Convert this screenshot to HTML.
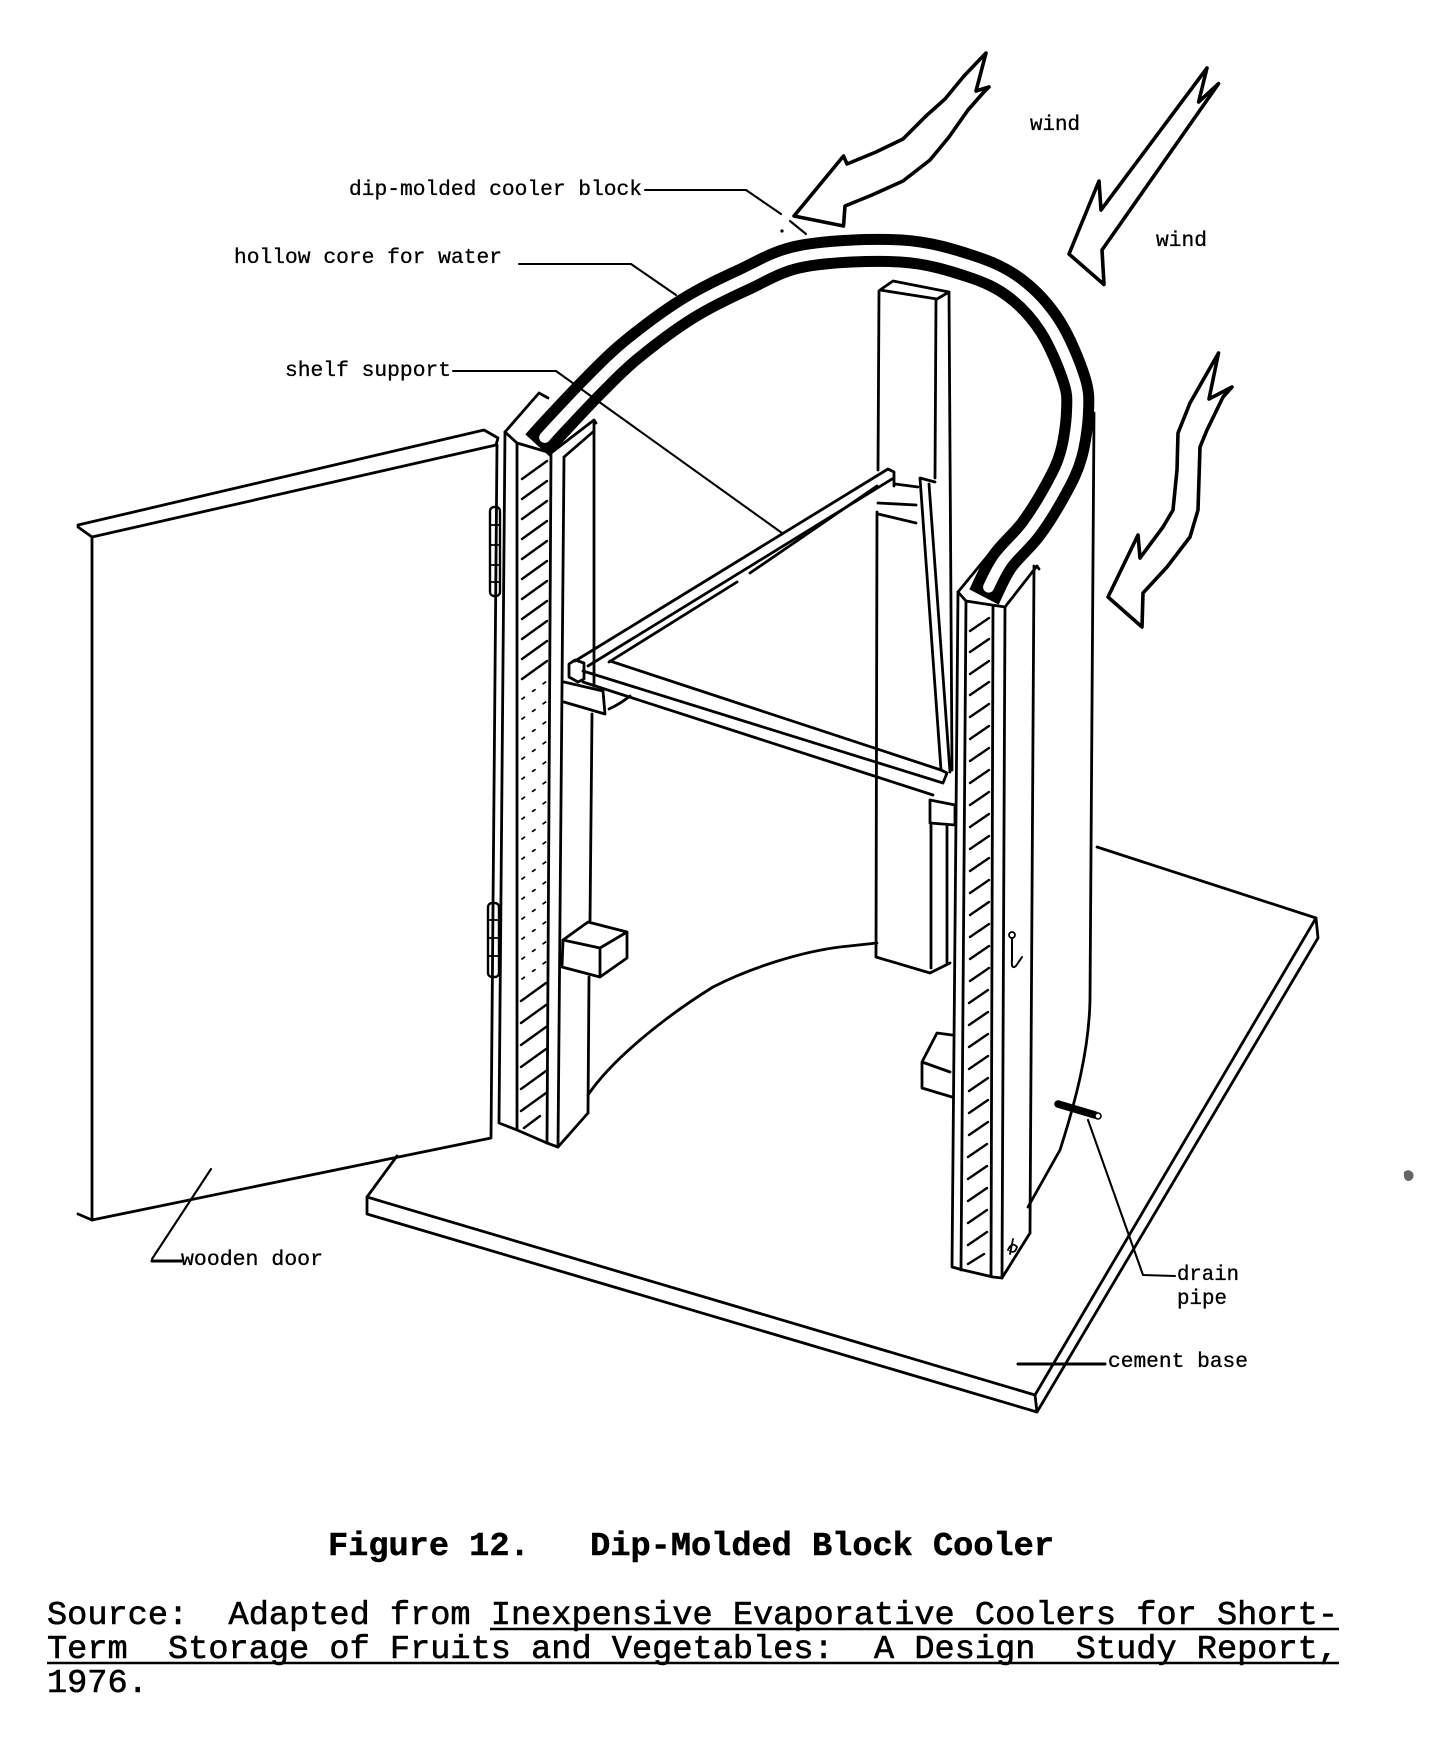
<!DOCTYPE html>
<html><head><meta charset="utf-8"><style>html,body{margin:0;padding:0;background:#fff}svg{display:block}text{white-space:pre}</style></head>
<body>
<svg width="1434" height="1754" viewBox="0 0 1434 1754" xmlns="http://www.w3.org/2000/svg">
<rect width="1434" height="1754" fill="#fff"/>
<g fill="none" stroke="#000" stroke-width="2.8" stroke-linecap="round" stroke-linejoin="round">
<!-- cement base slab -->
<path d="M397,1156 L367,1197 L367,1214 L1037,1412 L1318,938 L1316,918 L1097,847"/>
<path d="M367,1197 L1035,1395 L1316,918 M1035,1395 L1037,1412"/>
<!-- floor arc & shell -->
<path d="M588,1095 C610,1062 660,1020 713,987 C750,968 800,952 840,947 L877,943"/>
<path d="M1094,413 L1090,1000 C1089,1050 1076,1100 1060,1150 L1028,1207"/>
<!-- back post -->
<path d="M880,290 L893,281 L949,292 L937,299 Z"/>
<path d="M879,291 L878,470 M877,512 L876,957 L930,973 L950,963"/>
<path d="M936,299 L935,478"/>
<path d="M949,292 L952,770"/>
<path d="M931,823 L931,968 M947,826 L947,963"/>
<!-- strut -->
<path d="M920,478 L935,482 M920,478 L941,770 M929,484 L950,772"/>
<!-- crossbar 2 (diagonal) -->
<path d="M575,661 L888,469 L894,472 L894,486"/>
<path d="M588,666 L892,479"/>
<path d="M609,662 L737,582 M750,573 L877,486"/>
<!-- crossbar 1 -->
<path d="M610,661 L941,770 L947,773 L943,783 M583,671 L943,783 M583,682 L933,795"/>
<path d="M569,664 L575,660 L584,663 L584,679 L578,682 L569,677 Z"/>
<!-- brackets -->
<path d="M564,682 L603,691 L605,714 L564,702 M609,709 Q620,704 630,696"/>
<path d="M930,800 L955,805 L955,825 L930,823 Z"/>
<path d="M895,484 L918,487 M878,503 L916,505 M878,514 L916,523"/>
<!-- left post -->
<path d="M505,432 L539,393 L548,398"/>
<path d="M505,432 L517,443 L551,453 L594,420 L596,423"/>
<path d="M564,457 L594,431"/>
<path d="M505,432 L499,1123 L517,1130 L547,1143 L558,1147 L588,1113"/>
<path d="M517,443 L517,1130 M551,453 L547,1143 M564,457 L558,1147"/>
<path d="M594,421 L594,686 M592,714 L590,922 M589,977 L588,1113"/>
<!-- left small block -->
<path d="M563,940 L588,922 L627,932 L600,948 Z M563,940 L562,967 L600,977 L600,948 M600,977 L627,958 L627,932"/>
<!-- right post -->
<path d="M958,592 L995,547 L999,551"/>
<path d="M958,592 L966,601 L1005,607 L1037,566 L1039,569"/>
<path d="M958,592 L952,1267 L963,1270 L993,1277 L1002,1278 L1030,1233"/>
<path d="M966,601 L961,1270 M993,606 L991,1276 M1005,607 L1002,1278 M1034,566 L1030,1233"/>
<!-- right small block -->
<path d="M952,1035 L937,1033 L922,1062 L950,1072 M922,1062 L922,1088 L952,1097"/>
<!-- door -->
<path d="M78,525 L484,430 L498,438 L496,445 L92,537 L78,527 Z"/>
<path d="M92,537 L92,1220 L491,1138 L497,445"/>
<path d="M78,1214 L92,1220"/>
<rect x="490" y="507" width="10" height="89" rx="4" stroke-width="2.4"/>
<path d="M491,525 h8 M491,545 h8 M491,565 h8 M491,582 h8" stroke-width="1.8"/>
<rect x="488" y="903" width="11" height="74" rx="4" stroke-width="2.4"/>
<path d="M489,920 h9 M489,938 h9 M489,956 h9" stroke-width="1.8"/>
</g>
<!-- hatching -->
<g stroke="#000" stroke-width="2.4" stroke-linecap="round" fill="none">
<path d="M522,479L547,461M522,499L547,481M522,519L547,501M522,539L547,521M522,559L547,541M522,579L547,561M522,599L547,581M522,619L547,601M522,639L547,621M522,659L547,641M522,679L547,661M521,1001L546,983M521,1023L546,1005M521,1045L546,1027M521,1067L546,1049M521,1089L546,1071M521,1111L546,1093M524,1128L540,1116"/>
<path stroke-dasharray="3 10" stroke-width="1.7" d="M522,699L547,681M522,719L547,701M522,739L547,721M522,759L547,741M522,779L547,761M522,799L547,781M522,819L547,801M522,839L547,821M522,859L547,841M522,879L547,861M522,899L547,881M522,919L547,901M522,939L547,921M522,959L547,941M522,979L547,961"/>
<path d="M970,631L989,618M970,652L989,639M970,674L989,661M970,695L989,682M970,717L989,704M970,739L989,726M970,761L989,748M970,783L989,770M970,805L989,792M970,827L989,814M970,849L989,836M970,871L989,858M970,893L989,880M970,915L989,902M970,937L989,924M970,959L989,946M970,981L989,968M969,1003L988,990M969,1025L988,1012M969,1047L988,1034M969,1069L988,1056M969,1091L988,1078M969,1113L988,1100M969,1135L988,1122M968,1157L987,1144M968,1179L987,1166M968,1201L987,1188M968,1223L987,1210M968,1245L987,1232M968,1264L984,1254"/>
</g>
<!-- cooler block band -->
<path d="M537.5,445.5 C540.6,442.1 546.4,435.3 556,425 C565.6,414.75 582.5,396.5 595,384 C607.5,371.5 615.7,362.5 631,350 C646.3,337.5 668.3,320.7 687,309 C705.7,297.3 723.7,288.8 743,280 C762.3,271.2 776.7,260.8 803,256 C829.3,251.2 873.2,249.3 901,251 C928.8,252.7 951,259.8 970,266 C989,272.2 1001.7,278 1015,288 C1028.3,298 1040.2,310.8 1050,326 C1059.8,341.2 1069.4,364.7 1074,379 C1078.6,393.3 1078,399.3 1077.5,412 C1077,424.7 1074.6,442.2 1071,455 C1067.4,467.8 1062.7,476.7 1056,489 C1049.3,501.3 1040,516.8 1031,529 C1022,541.2 1009.8,550.7 1002,562 C994.2,573.3 987,591.2 984,597" fill="none" stroke="#000" stroke-width="33" stroke-linecap="butt"/>
<path pathLength="1000" stroke-dasharray="976 1000" stroke-dashoffset="-12" d="M537.5,445.5 C540.6,442.1 546.4,435.3 556,425 C565.6,414.75 582.5,396.5 595,384 C607.5,371.5 615.7,362.5 631,350 C646.3,337.5 668.3,320.7 687,309 C705.7,297.3 723.7,288.8 743,280 C762.3,271.2 776.7,260.8 803,256 C829.3,251.2 873.2,249.3 901,251 C928.8,252.7 951,259.8 970,266 C989,272.2 1001.7,278 1015,288 C1028.3,298 1040.2,310.8 1050,326 C1059.8,341.2 1069.4,364.7 1074,379 C1078.6,393.3 1078,399.3 1077.5,412 C1077,424.7 1074.6,442.2 1071,455 C1067.4,467.8 1062.7,476.7 1056,489 C1049.3,501.3 1040,516.8 1031,529 C1022,541.2 1009.8,550.7 1002,562 C994.2,573.3 987,591.2 984,597" fill="none" stroke="#fff" stroke-width="11" stroke-linecap="round"/>
<!-- arrows -->
<g fill="#fff" stroke="#000" stroke-width="3.6" stroke-linejoin="round">
<path d="M986,53 L964,76 L945,99 L926,116 L903,139 L876,152 L847,164 L843.5,156 L794,216 L843.5,226 L845,206 L872,195 L903,181 L930,160 L949,137 L968,110 L983,93 L989,87 L976,91 Z"/>
<path d="M1207,68 L1101,210 L1099,181 L1069,254 L1104,284.5 L1102,250 L1218.6,83.6 L1198.6,102 Z"/>
<path d="M1218.5,353 L1190,403 L1178,433 L1177,470 L1173,510 L1163,527 L1140,558 L1138,535 L1108,597 L1142,627 L1143,593 L1167,567 L1190,537 L1198,510 L1200,447 L1207,430 L1223,397 L1232,387 L1209,399 Z"/>
</g>
<!-- hook, anchor, drain pipe -->
<g fill="none" stroke="#000" stroke-linecap="round">
<circle cx="1012" cy="935" r="3" stroke-width="1.8"/>
<path d="M1012,938 L1012,960 Q1011,970 1016,966 L1022,957" stroke-width="2"/>
<path d="M1008,1250 q4,-9 9,-3 q-2,7 -7,4 M1013,1239 L1010,1254" stroke-width="1.8"/>
<line x1="1058" y1="1104" x2="1095" y2="1115" stroke-width="7.5"/>
</g>
<circle cx="1098" cy="1116" r="3" fill="#fff" stroke="#000" stroke-width="1.6"/>
<!-- leaders -->
<g fill="none" stroke="#000" stroke-width="2.1" stroke-linecap="round" stroke-linejoin="round">
<path d="M645,190 L746,190 L781,214"/>
<path d="M790,221 L806,234"/>
<path d="M519,264 L631,264 L676,295"/>
<path d="M453,371 L556,371 L782,533"/>
<path d="M211,1169 L152,1259"/>
<path d="M152,1261 L181,1261" stroke-width="3"/>
<path d="M1088,1120 L1143,1275 L1175,1276"/>
<path d="M1018,1364 L1105,1364" stroke-width="3"/>
</g>
<circle cx="782" cy="231" r="1.6" fill="#000"/>
<path d="M1404,1172 q5,-4 9,1 q2,6 -4,8 q-6,0 -5,-9 z" fill="#666"/>
<!-- labels -->
<g font-family="'Liberation Mono', 'DejaVu Sans Mono', monospace" font-size="21" fill="#000" stroke="#000" stroke-width="0.3">
<text x="349" y="195" textLength="293" lengthAdjust="spacingAndGlyphs">dip-molded cooler block</text>
<text x="234" y="263" textLength="268" lengthAdjust="spacingAndGlyphs">hollow core for water</text>
<text x="285" y="376" textLength="166" lengthAdjust="spacingAndGlyphs">shelf support</text>
<text x="1030" y="130" textLength="50" lengthAdjust="spacingAndGlyphs">wind</text>
<text x="1156" y="246" textLength="51" lengthAdjust="spacingAndGlyphs">wind</text>
<text x="181" y="1265" textLength="142" lengthAdjust="spacingAndGlyphs">wooden door</text>
<text x="1177" y="1280" textLength="62" lengthAdjust="spacingAndGlyphs">drain</text>
<text x="1177" y="1304" textLength="50" lengthAdjust="spacingAndGlyphs">pipe</text>
<text x="1108" y="1367" textLength="140" lengthAdjust="spacingAndGlyphs">cement base</text>
</g>
<!-- caption -->
<g font-family="'Liberation Mono', 'DejaVu Sans Mono', monospace" fill="#000">
<text x="328" y="1555" font-size="33.6" font-weight="bold" stroke="#000" stroke-width="0.5" textLength="726" lengthAdjust="spacingAndGlyphs" xml:space="preserve">Figure 12.   Dip-Molded Block Cooler</text>
<text x="47" y="1624" font-size="33.6" stroke="#000" stroke-width="0.6" textLength="1291" lengthAdjust="spacingAndGlyphs" xml:space="preserve">Source:  Adapted from Inexpensive Evaporative Coolers for Short-</text>
<text x="47" y="1658" font-size="33.6" stroke="#000" stroke-width="0.6" textLength="1291" lengthAdjust="spacingAndGlyphs" xml:space="preserve">Term  Storage of Fruits and Vegetables:  A Design  Study Report,</text>
<text x="47" y="1692" font-size="33.6" stroke="#000" stroke-width="0.6" xml:space="preserve">1976.</text>
</g>
<path d="M490,1629 L1339,1629 M47,1663 L1339,1663" stroke="#000" stroke-width="2.6" fill="none"/>
</svg>
</body></html>
